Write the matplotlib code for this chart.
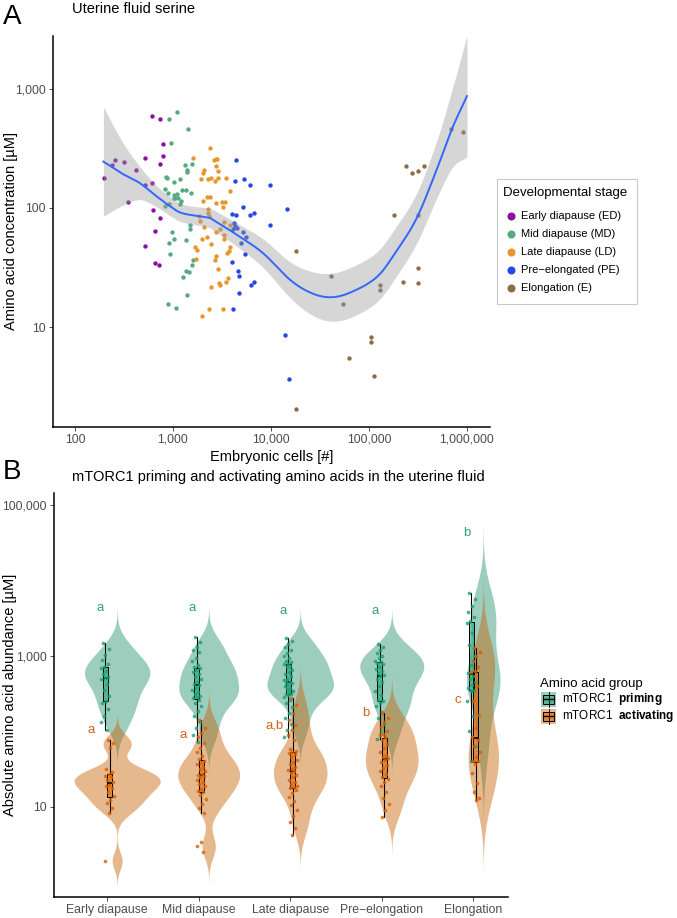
import numpy as np
import matplotlib
matplotlib.use("Agg")
import matplotlib.pyplot as plt
from matplotlib.patches import Rectangle
from matplotlib.ticker import NullLocator

plt.rcParams['font.family'] = ['Liberation Sans', 'DejaVu Sans']
plt.rcParams['mathtext.fontset'] = 'custom'
plt.rcParams['mathtext.rm'] = 'Liberation Sans'
plt.rcParams['mathtext.bf'] = 'Liberation Sans:bold'

# ---------------- Panel A data (log10 embryonic cells, log10 serine µM) ----------------
stage_labels = ["Early diapause (ED)", "Mid diapause (MD)", "Late diapause (LD)",
                "Pre\u2212elongated (PE)", "Elongation (E)"]
stage_colors = ["#8B0FA6", "#55AB7F", "#E8962C", "#2648E2", "#8C6D4A"]

ed_cells_log10 = [2.30, 2.38, 2.41, 2.50, 2.54, 2.62, 2.71, 2.79, 2.87, 2.90, 2.90, 2.87, 2.79, 2.71,
                  2.80, 2.87, 2.82, 2.71, 2.82, 2.86]
ed_serine_log10 = [2.25, 2.36, 2.40, 2.39, 2.05, 2.32, 2.42, 2.77, 2.75, 2.54, 2.44, 2.37, 2.21, 2.19,
                   1.98, 1.92, 1.81, 1.68, 1.54, 1.52]
md_cells_log10 = [3.04, 2.96, 3.15, 2.98, 3.12, 3.14, 3.14, 3.19, 2.93, 2.94, 3.07, 3.01, 2.92, 2.95,
                  3.09, 3.13, 3.18, 3.01, 3.04, 3.01, 3.02, 3.05, 3.08, 3.07, 2.92, 2.96, 3.17, 3.17,
                  2.99, 3.01, 2.96, 3.13, 2.97, 3.20, 3.19, 3.13, 3.16, 3.10, 3.14, 2.95, 3.03]
md_serine_log10 = [2.81, 2.75, 2.66, 2.55, 2.36, 2.32, 2.30, 2.37, 2.26, 2.25, 2.24, 2.22, 2.16, 2.13,
                   2.15, 2.15, 2.13, 2.11, 2.12, 2.08, 2.08, 2.08, 2.06, 2.03, 2.02, 2.03, 1.86, 1.82,
                   1.80, 1.74, 1.71, 1.73, 1.61, 1.56, 1.52, 1.47, 1.46, 1.42, 1.27, 1.19, 1.16]
ld_cells_log10 = [3.38, 3.20, 3.42, 3.44, 3.45, 3.32, 3.31, 3.46, 3.44, 3.29, 3.36, 3.39, 3.43, 3.54,
                  3.46, 3.58, 3.35, 3.38, 3.31, 3.44, 3.50, 3.53, 3.51, 3.27, 3.36, 3.36, 3.37, 3.28,
                  3.52, 3.58, 3.32, 3.48, 3.44, 3.52, 3.30, 3.35, 3.39, 3.52, 3.58, 3.57, 3.55, 3.25,
                  3.22, 3.24, 3.44, 3.43, 3.46, 3.56, 3.54, 3.47, 3.48, 3.39, 3.37, 3.51, 3.30]
ld_serine_log10 = [2.50, 2.42, 2.40, 2.41, 2.41, 2.32, 2.29, 2.31, 2.35, 2.24, 2.24, 2.25, 2.23, 2.25,
                   2.25, 2.14, 2.09, 2.09, 2.06, 2.04, 2.05, 2.05, 2.01, 1.93, 1.99, 1.96, 1.93, 1.89,
                   1.88, 1.86, 1.84, 1.82, 1.80, 1.77, 1.74, 1.76, 1.70, 1.74, 1.67, 1.64, 1.62, 1.65,
                   1.67, 1.57, 1.60, 1.56, 1.49, 1.41, 1.38, 1.37, 1.35, 1.34, 1.15, 1.15, 1.09]
pe_cells_log10 = [3.64, 3.72, 3.63, 3.79, 3.99, 4.16, 3.71, 3.60, 3.64, 3.79, 3.83, 3.62, 3.63, 3.65,
                  3.61, 3.99, 3.71, 3.75, 3.69, 3.74, 3.60, 3.66, 3.67, 3.83, 3.80, 3.67, 3.61, 4.14, 4.18]
pe_serine_log10 = [2.40, 2.24, 2.23, 2.19, 2.19, 1.99, 2.01, 1.95, 1.94, 1.94, 1.96, 1.87, 1.85, 1.83,
                   1.82, 1.86, 1.80, 1.76, 1.71, 1.61, 1.55, 1.47, 1.43, 1.38, 1.35, 1.29, 1.15, 0.93, 0.56]
e_cells_log10 = [4.26, 4.61, 4.74, 4.80, 4.26, 5.02, 5.02, 5.05, 5.11, 5.11, 5.26, 5.35, 5.50, 5.50,
                 5.50, 5.38, 5.44, 5.50, 5.56, 5.84, 5.96]
e_serine_log10 = [1.64, 1.43, 1.19, 0.74, 0.31, 0.92, 0.87, 0.59, 1.35, 1.31, 1.94, 1.38, 1.50, 1.37,
                  1.94, 2.35, 2.29, 2.31, 2.35, 2.66, 2.64]

# loess fit (log10 cells, log10 µM, standard-error half width)
fit_cells_log10 = [2.29, 2.48, 2.66, 2.83, 2.98, 3.10, 3.35, 3.41, 3.68, 3.92, 4.19, 4.40, 4.60, 4.81,
                   5.08, 5.29, 5.49, 5.69, 5.85, 6.00]
fit_serine_log10 = [2.39, 2.29, 2.21, 2.10, 2.01, 1.955, 1.92, 1.90, 1.76, 1.62, 1.40, 1.29, 1.25, 1.29,
                    1.42, 1.65, 1.92, 2.32, 2.67, 2.94]
fit_se_log10 = [0.46, 0.27, 0.14, 0.09, 0.08, 0.075, 0.08, 0.085, 0.10, 0.12, 0.15, 0.18, 0.20, 0.21,
                0.21, 0.21, 0.21, 0.24, 0.33, 0.51]

# ---------------- Panel B data (log10 µM) ----------------
categories = ["Early diapause", "Mid diapause", "Late diapause", "Pre\u2212elongation", "Elongation"]
priming_log10 = [
    [3.17, 3.10, 3.02, 2.95, 2.90, 2.86, 2.84, 2.80, 2.76, 2.72, 2.71, 2.69, 2.63, 2.55, 2.47, 2.40,
     2.38, 2.30, 2.21, 2.12, 2.02],
    [3.25, 3.18, 3.12, 3.08, 3.05, 2.98, 2.93, 2.88, 2.85, 2.84, 2.82, 2.79, 2.76, 2.72, 2.69, 2.66,
     2.63, 2.61, 2.58, 2.55, 2.52, 2.50, 2.47, 2.45, 2.44, 2.42, 2.38, 2.33, 2.27, 2.20, 2.12, 2.05,
     1.95, 1.86],
    [3.24, 3.20, 3.16, 3.12, 3.08, 3.04, 3.00, 2.97, 2.94, 2.92, 2.90, 2.89, 2.87, 2.85, 2.82, 2.79,
     2.76, 2.73, 2.70, 2.68, 2.66, 2.65, 2.64, 2.62, 2.60, 2.58, 2.56, 2.54, 2.52, 2.50, 2.49, 2.48,
     2.46, 2.42, 2.37, 2.32, 2.25, 2.18, 2.10, 2.02, 1.92],
    [3.16, 3.12, 3.08, 3.04, 3.00, 2.97, 2.94, 2.92, 2.91, 2.89, 2.86, 2.83, 2.80, 2.77, 2.75, 2.73,
     2.70, 2.66, 2.60, 2.54, 2.48, 2.42, 2.40, 2.38, 2.33, 2.26, 2.18, 2.10, 2.00, 1.90],
    [3.84, 3.76, 3.66, 3.58, 3.52, 3.47, 3.44, 3.30, 3.15, 3.00, 2.88, 2.78, 2.74, 2.70, 2.66, 2.62,
     2.58, 2.55, 2.53, 2.40, 2.20, 2.00, 1.80, 1.60],
]
activating_log10 = [
    [1.88, 1.84, 1.78, 1.50, 1.46, 1.43, 1.41, 1.39, 1.36, 1.33, 1.29, 1.27, 1.25, 1.19, 1.14, 1.09,
     1.05, 0.98, 0.92, 0.28],
    [2.15, 2.05, 1.98, 1.92, 1.85, 1.78, 1.72, 1.67, 1.63, 1.60, 1.58, 1.56, 1.53, 1.50, 1.47, 1.44,
     1.42, 1.41, 1.39, 1.36, 1.33, 1.30, 1.27, 1.24, 1.21, 1.19, 1.15, 1.10, 1.04, 0.98, 0.92, 0.53,
     0.48, 0.40],
    [2.44, 2.35, 2.25, 2.15, 2.08, 2.02, 1.95, 1.88, 1.76, 1.74, 1.72, 1.71, 1.70, 1.66, 1.62, 1.59,
     1.56, 1.53, 1.50, 1.48, 1.47, 1.45, 1.42, 1.39, 1.36, 1.33, 1.30, 1.28, 1.26, 1.25, 1.22, 1.18,
     1.13, 1.08, 1.02, 0.96, 0.88, 0.80, 0.72, 0.62],
    [2.24, 2.18, 2.12, 2.06, 2.01, 1.97, 1.95, 1.92, 1.88, 1.83, 1.78, 1.73, 1.69, 1.66, 1.64, 1.62,
     1.59, 1.55, 1.51, 1.47, 1.43, 1.39, 1.37, 1.33, 1.27, 1.20, 1.12, 1.03, 0.95, 0.86],
    [3.11, 3.06, 3.00, 2.93, 2.86, 2.80, 2.79, 2.60, 2.40, 2.22, 2.05, 1.93, 1.89, 1.80, 1.72, 1.66,
     1.61, 1.60, 1.57, 1.45, 1.32, 1.20, 1.12, 1.09],
]
priming_letters = ["a", "a", "a", "a", "b"]
priming_letter_log10 = [3.64, 3.64, 3.60, 3.60, 4.63]
activating_letters = ["a", "a", "a,b", "b", "c"]
activating_letter_log10 = [2.02, 1.95, 2.08, 2.24, 2.42]

GREEN = "#1B9E77"
ORANGE = "#D95F02"
GREEN_FILL = "#2A9470"
ORANGE_FILL = "#C8640A"
FILL_ALPHA = 0.46

W, H = 677, 918
fig = plt.figure(figsize=(W / 100, H / 100), dpi=100)


def fx(px):
    return px / W


def fy(py):
    return 1 - py / H


def catmull(xs, ys, n=20):
    P = np.column_stack([np.asarray(xs, float), np.asarray(ys, float)])
    P = np.vstack([2 * P[0] - P[1], P, 2 * P[-1] - P[-2]])
    out = []
    t = np.linspace(0, 1, n, endpoint=False)[:, None]
    for i in range(1, len(P) - 2):
        p0, p1, p2, p3 = P[i - 1], P[i], P[i + 1], P[i + 2]
        seg = 0.5 * ((2 * p1) + (-p0 + p2) * t + (2 * p0 - 5 * p1 + 4 * p2 - p3) * t ** 2
                     + (-p0 + 3 * p1 - 3 * p2 + p3) * t ** 3)
        out.append(seg)
    out.append(P[-2][None, :])
    r = np.vstack(out)
    return r[:, 0], r[:, 1]


TICK_COL = "#4D4D4D"

# ================= Panel A =================
axA = fig.add_axes([fx(53), fy(427), (490 - 53) / W, (427 - 36) / H])
stage_x = [ed_cells_log10, md_cells_log10, ld_cells_log10, pe_cells_log10, e_cells_log10]
stage_y = [ed_serine_log10, md_serine_log10, ld_serine_log10, pe_serine_log10, e_serine_log10]
for xs, ys, col in zip(stage_x, stage_y, stage_colors):
    axA.scatter(10 ** np.array(xs), 10 ** np.array(ys), s=10, color=col, lw=0, zorder=2)

fx_arr = np.array(fit_cells_log10)
fy_arr = np.array(fit_serine_log10)
se_arr = np.array(fit_se_log10)
sx, sy = catmull(fx_arr, fy_arr)
_, su = catmull(fx_arr, fy_arr + se_arr)
_, sl = catmull(fx_arr, fy_arr - se_arr)
axA.fill_between(10 ** sx, 10 ** sl, 10 ** su, color="#999999", alpha=0.4, lw=0, zorder=3)
axA.plot(10 ** sx, 10 ** sy, color="#3366FF", lw=1.4, zorder=4)

axA.set_xscale("log")
axA.set_yscale("log")
axA.set_xlim(10 ** 1.776, 10 ** 6.235)
axA.set_ylim(10 ** 0.16, 10 ** 3.445)
axA.set_xticks([1e2, 1e3, 1e4, 1e5, 1e6])
axA.set_xticklabels(["100", "1,000", "10,000", "100,000", "1,000,000"])
axA.set_yticks([10, 100, 1000])
axA.set_yticklabels(["10", "100", "1,000"])
axA.xaxis.set_minor_locator(NullLocator())
axA.yaxis.set_minor_locator(NullLocator())
axA.set_xlabel("Embryonic cells [#]", fontsize=10.5, labelpad=3)

# ================= Panel B =================
axB = fig.add_axes([fx(54), fy(897), (508 - 54) / W, (897 - 493) / H])


def nrd0(v):
    sd = np.std(v, ddof=1)
    q75, q25 = np.percentile(v, [75, 25])
    lo = min(sd, (q75 - q25) / 1.34) if q75 > q25 else sd
    return 0.9 * lo * len(v) ** -0.2


def kde(v):
    v = np.asarray(v)
    bw = nrd0(v)
    grid = np.linspace(v.min() - 3 * bw, v.max() + 3 * bw, 512)
    d = np.exp(-0.5 * ((grid[:, None] - v[None, :]) / bw) ** 2).sum(1) / (len(v) * bw * np.sqrt(2 * np.pi))
    return grid, d


dens = []
for i in range(5):
    dens.append((kde(priming_log10[i]), kde(activating_log10[i])))
dmax = max(max(p[1].max(), a[1].max()) for p, a in dens)

VOFF = 0.11
for i in range(5):
    for (g, d), col in zip(dens[i], [GREEN_FILL, ORANGE_FILL]):
        hw = 0.47 * d / dmax
        axB.fill_betweenx(10 ** g, i + VOFF - hw, i + VOFF + hw, color=col, alpha=FILL_ALPHA, lw=0, zorder=2)


def box_stats(v):
    v = np.asarray(v)
    q1, med, q3 = np.percentile(v, [25, 50, 75])
    iqr = q3 - q1
    lo = v[v >= q1 - 1.5 * iqr].min()
    hi = v[v <= q3 + 1.5 * iqr].max()
    return dict(med=10 ** med, q1=10 ** q1, q3=10 ** q3, whislo=10 ** lo, whishi=10 ** hi, fliers=[])


def jitter(n):
    return ((np.arange(n) * 0.6180339887 + 0.3) % 1.0 - 0.5) * 2


for i in range(5):
    for vals, col, off in [(priming_log10[i], GREEN, -0.022), (activating_log10[i], ORANGE, 0.027)]:
        st = box_stats(vals)
        axB.bxp([st], positions=[i + off], widths=0.055, showfliers=False, patch_artist=True,
                boxprops=dict(facecolor=col, alpha=0.55, edgecolor="black", lw=0.7),
                medianprops=dict(color="black", lw=1.2),
                whiskerprops=dict(color="black", lw=0.8), capprops=dict(lw=0), zorder=3)
        rect_edge = Rectangle((i + off - 0.0275, st["q1"]), 0.055, st["q3"] - st["q1"],
                              fill=False, edgecolor="black", lw=0.7, zorder=3.5)
        axB.add_patch(rect_edge)
        v = np.asarray(vals)
        axB.scatter(i + off + 0.05 * jitter(len(v)), 10 ** v, s=7, color=col, alpha=0.8, lw=0, zorder=4)

for i in range(5):
    axB.text(i - 0.075, 10 ** priming_letter_log10[i], priming_letters[i], color="#2FA17C",
             fontsize=9.5, ha="center", va="center", zorder=5)
    axB.text(i - 0.17, 10 ** activating_letter_log10[i], activating_letters[i], color="#D4621A",
             fontsize=9.5, ha="center", va="center", zorder=5)

axB.set_yscale("log")
axB.set_ylim(10 ** -0.20, 10 ** 5.165)
axB.set_xlim(-0.58, 4.38)
axB.set_yticks([10, 1000, 100000])
axB.set_yticklabels(["10", "1,000", "100,000"])
axB.yaxis.set_minor_locator(NullLocator())
axB.set_xticks(range(5))
axB.set_xticklabels(categories)

for ax in (axA, axB):
    ax.spines["top"].set_visible(False)
    ax.spines["right"].set_visible(False)
    for s in ("left", "bottom"):
        ax.spines[s].set_linewidth(1.1)
        ax.spines[s].set_color("black")
    ax.tick_params(direction="out", length=3, width=0.6, color="#333333", labelcolor=TICK_COL,
                   labelsize=8.8, pad=2)

# ---------------- texts ----------------
fig.text(fx(3), fy(17), "A", fontsize=20, va="center", ha="left")
fig.text(fx(72), fy(9), "Uterine fluid serine", fontsize=10.5, va="center", ha="left")
fig.text(fx(3), fy(472), "B", fontsize=20, va="center", ha="left")
fig.text(fx(72), fy(477), "mTORC1 priming and activating amino acids in the uterine fluid",
         fontsize=10.5, va="center", ha="left")
fig.text(fx(11), fy(231), "Amino acid concentration [\u00b5M]", fontsize=10.5, rotation=90,
         va="center", ha="center")
fig.text(fx(10), fy(695), "Absolute amino acid abundance [\u00b5M]", fontsize=10.5, rotation=90,
         va="center", ha="center")

# ---------------- legend A ----------------
legA = fig.add_axes([0, 0, 1, 1], zorder=10)
legA.set_xlim(0, W)
legA.set_ylim(H, 0)
legA.axis("off")
legA.patch.set_alpha(0)
legA.add_patch(Rectangle((497, 179), 140, 125, fill=False, edgecolor="#C8C8C8", lw=0.8))
legA.text(503, 193, "Developmental stage", fontsize=9.5, va="center", ha="left")
for k, (lab, col) in enumerate(zip(stage_labels, stage_colors)):
    yy = 216 + 18 * k
    legA.plot([511], [yy], "o", ms=5.8, color=col, mec="none")
    legA.text(521, yy, lab, fontsize=8, va="center", ha="left")

# ---------------- legend B ----------------
legA.text(540, 684, "Amino acid group", fontsize=9.5, va="center", ha="left")
for k, (lab, col, fcol) in enumerate([("mTORC1  $\\mathbf{priming}$", GREEN, GREEN_FILL),
                                      ("mTORC1  $\\mathbf{activating}$", ORANGE, ORANGE_FILL)]):
    yy = 699 + 17 * k
    legA.add_patch(Rectangle((541, yy - 7.5), 15, 15, facecolor=fcol, alpha=FILL_ALPHA, lw=0))
    legA.plot([548.5, 548.5], [yy - 7.5, yy + 7.5], color="black", lw=0.6)
    legA.add_patch(Rectangle((543, yy - 4.5), 11, 9, facecolor=col, alpha=0.55, edgecolor="none"))
    legA.add_patch(Rectangle((543, yy - 4.5), 11, 9, fill=False, edgecolor="black", lw=0.7))
    legA.plot([543, 554], [yy, yy], color="black", lw=1.0)
    legA.text(562, yy, lab, fontsize=8.5, va="center", ha="left")

fig.savefig("out.png", dpi=100)
